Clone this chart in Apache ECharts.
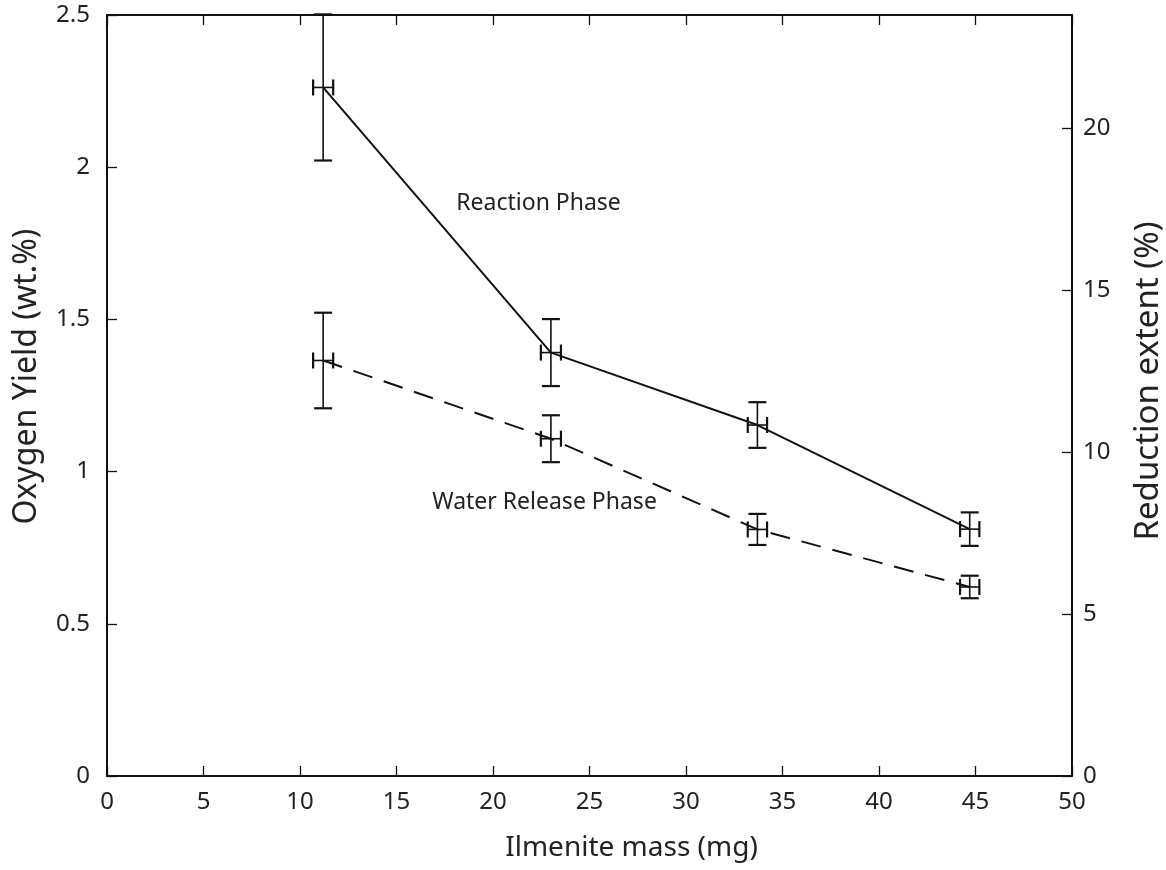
<!DOCTYPE html>
<html>
<head>
<meta charset="utf-8">
<script src="https://cdn.jsdelivr.net/npm/echarts@6/dist/echarts.min.js"></script>
<style>
  html, body { margin: 0; padding: 0; background: #fff; }
  #chart { width: 1166px; height: 870px; }
</style>
</head>
<body>
<div id="chart"></div>
<script>
// 数据
var massX = [11.2, 23.0, 33.7, 44.7];
var massErr = [0.52, 0.52, 0.5, 0.5];
var reactionY = [2.262, 1.391, 1.153, 0.811];
var reactionErr = [0.24, 0.11, 0.075, 0.055];
var waterY = [1.365, 1.108, 0.81, 0.621];
var waterErr = [0.157, 0.077, 0.051, 0.037];
var xTicks = [0, 5, 10, 15, 20, 25, 30, 35, 40, 45, 50];
var leftTicks = [0, 0.5, 1, 1.5, 2, 2.5];
var rightTicks = [0, 5, 10, 15, 20];

var fontFam = 'Noto Sans';

function pts(ys) {
    return massX.map(function (x, i) { return [x, ys[i]]; });
}
function errData(ys, es) {
    return massX.map(function (x, i) { return [x, ys[i], massErr[i], es[i]]; });
}

// 误差棒
function renderErr(params, api) {
    var x = api.value(0), y = api.value(1), ex = api.value(2), ey = api.value(3);
    var top = api.coord([x, y + ey]);
    var bot = api.coord([x, y - ey]);
    var lft = api.coord([x - ex, y]);
    var rgt = api.coord([x + ex, y]);
    var cw = 9, ch = 8;
    var st = { stroke: '#111', lineWidth: 1.6 };
    var st2 = { stroke: '#111', lineWidth: 2.2 };
    return {
        type: 'group',
        children: [
            { type: 'line', shape: { x1: top[0], y1: top[1], x2: bot[0], y2: bot[1] }, style: st },
            { type: 'line', shape: { x1: top[0] - cw, y1: top[1], x2: top[0] + cw, y2: top[1] }, style: st2 },
            { type: 'line', shape: { x1: bot[0] - cw, y1: bot[1], x2: bot[0] + cw, y2: bot[1] }, style: st2 },
            { type: 'line', shape: { x1: lft[0], y1: lft[1], x2: rgt[0], y2: rgt[1] }, style: st },
            { type: 'line', shape: { x1: lft[0], y1: lft[1] - ch, x2: lft[0], y2: lft[1] + ch }, style: st2 },
            { type: 'line', shape: { x1: rgt[0], y1: rgt[1] - ch, x2: rgt[0], y2: rgt[1] + ch }, style: st2 }
        ]
    };
}

var myChart = echarts.init(document.getElementById('chart'));

var axisLine = { show: true, onZero: false, lineStyle: { color: '#111', width: 2 } };
var tickStyle = { show: true, inside: true, length: 10, lineStyle: { color: '#111', width: 1.3 } };
var labelStyle = { color: '#222', fontSize: 24, fontFamily: fontFam };

var option = {
    animation: false,
    backgroundColor: '#fff',
    grid: { left: 107, right: 94, top: 15, bottom: 94, outerBoundsMode: 'none', containLabel: false },
    xAxis: [
        {
            type: 'value', min: 0, max: 50, interval: 5, position: 'bottom',
            name: 'Ilmenite mass (mg)', nameLocation: 'middle', nameGap: 58,
            nameTextStyle: { color: '#222', fontSize: 28, fontFamily: fontFam, padding: [0, 0, 0, 84] },
            axisLine: axisLine, axisTick: tickStyle,
            axisLabel: Object.assign({ margin: 14 }, labelStyle),
            splitLine: { show: false }
        },
        {
            type: 'value', min: 0, max: 50, interval: 5, position: 'top',
            axisLine: axisLine, axisTick: tickStyle,
            axisLabel: { show: false }, splitLine: { show: false }
        }
    ],
    yAxis: [
        {
            type: 'value', min: 0, max: 2.5, interval: 0.5, position: 'left',
            name: 'Oxygen Yield (wt.%)', nameLocation: 'middle', nameGap: 64, nameRotate: 90,
            nameTextStyle: { color: '#222', fontSize: 32, fontFamily: fontFam, padding: [0, 0, 0, 38] },
            axisLine: axisLine, axisTick: tickStyle,
            axisLabel: Object.assign({ margin: 17 }, labelStyle),
            splitLine: { show: false }
        },
        {
            type: 'value', min: 0, max: 23.5, interval: 5, position: 'right',
            name: 'Reduction extent (%)', nameLocation: 'middle', nameGap: 60, nameRotate: 90,
            nameTextStyle: { color: '#222', fontSize: 33, fontFamily: fontFam, padding: [0, 0, 0, 29] },
            axisLine: axisLine, axisTick: tickStyle,
            axisLabel: Object.assign({ margin: 11, showMaxLabel: false }, labelStyle),
            splitLine: { show: false }
        }
    ],
    series: [
        {
            name: 'Reaction Phase',
            type: 'line',
            data: pts(reactionY),
            symbol: 'none',
            lineStyle: { color: '#111', width: 2 },
            markPoint: {
                symbolSize: 0,
                label: { show: true, formatter: 'Reaction Phase', color: '#222', fontSize: 23, fontFamily: fontFam },
                data: [{ coord: [22.36, 1.88] }]
            }
        },
        {
            name: 'Water Release Phase',
            type: 'line',
            data: pts(waterY),
            symbol: 'none',
            lineStyle: { color: '#111', width: 2, type: [20, 12] },
            markPoint: {
                symbolSize: 0,
                label: { show: true, formatter: 'Water Release Phase', color: '#222', fontSize: 23, fontFamily: fontFam },
                data: [{ coord: [22.67, 0.9] }]
            }
        },
        {
            type: 'custom',
            renderItem: renderErr,
            data: errData(reactionY, reactionErr),
            z: 5
        },
        {
            type: 'custom',
            renderItem: renderErr,
            data: errData(waterY, waterErr),
            z: 5
        }
    ]
};

myChart.setOption(option);
</script>
</body>
</html>
